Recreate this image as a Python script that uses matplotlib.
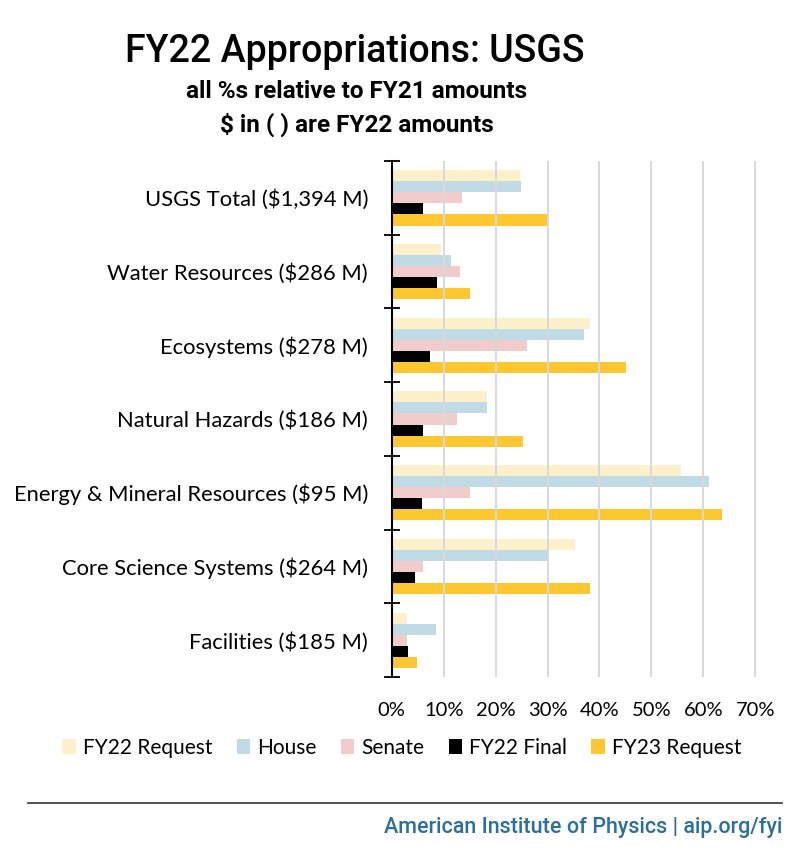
import matplotlib
matplotlib.use("Agg")
import matplotlib.pyplot as plt
from matplotlib import font_manager
from matplotlib.patches import Patch
import numpy as np

categories = [
    "USGS Total ($1,394 M)",
    "Water Resources ($286 M)",
    "Ecosystems ($278 M)",
    "Natural Hazards ($186 M)",
    "Energy & Mineral Resources ($95 M)",
    "Core Science Systems ($264 M)",
    "Facilities ($185 M)",
]
series_names = ["FY22 Request", "House", "Senate", "FY22 Final", "FY23 Request"]
fy22_request = [24.7, 9.5, 38.2, 18.4, 55.6, 35.3, 3.0]
house = [24.9, 11.4, 37.1, 18.4, 61.0, 30.0, 8.5]
senate = [13.6, 13.2, 26.1, 12.6, 15.1, 6.0, 3.0]
fy22_final = [6.0, 8.7, 7.4, 6.0, 5.8, 4.5, 3.1]
fy23_request = [30.1, 15.1, 45.2, 25.3, 63.5, 38.2, 4.9]
colors = ["#FFF0CC", "#C0DBE5", "#F2CBCB", "#000000", "#FDC72F"]
x_ticks = [0, 10, 20, 30, 40, 50, 60, 70]


def pick_font(names):
    for n in names:
        try:
            font_manager.findfont(n, fallback_to_default=False)
            return n
        except Exception:
            pass
    return "DejaVu Sans"


body_font = pick_font(["Lato", "Open Sans", "DejaVu Sans"])
narrow_font = pick_font(["Liberation Sans Narrow", "DejaVu Sans Condensed", "Roboto", "DejaVu Sans"])

plt.rcParams["font.family"] = [body_font, "DejaVu Sans"]

fig = plt.figure(figsize=(8, 8.5), dpi=100)
ax = fig.add_axes([391.7 / 800, 1 - 677 / 850, 0.487, (677 - 161) / 850])

data = [fy22_request, house, senate, fy22_final, fy23_request]
y = np.arange(len(categories))
h = 0.15
for k, (vals, col) in enumerate(zip(data, colors)):
    ax.barh(y + (k - 2) * h, vals, height=h, color=col, zorder=1, label=series_names[k])

ax.set_ylim(len(categories) - 0.5, -0.5)
ax.set_xlim(0, 75)
ax.set_yticks(np.arange(len(categories) + 1) - 0.5)
ax.set_yticklabels([])
ax.set_yticks(y, minor=True)
ax.set_yticklabels(categories, minor=True, fontsize=15.8)
ax.tick_params(axis="y", which="major", direction="inout", length=12, width=1.3, color="black")
ax.tick_params(axis="y", which="minor", length=0, pad=17)

ax.set_xticks(x_ticks)
ax.set_xticklabels([f"{v}%" for v in x_ticks], fontsize=14.5)
ax.tick_params(axis="x", length=0, pad=18)
for v in x_ticks[1:]:
    ax.axvline(v, color="#D9D9D9", lw=1.4, zorder=3)

for s in ["top", "right", "bottom"]:
    ax.spines[s].set_visible(False)
ax.spines["left"].set_linewidth(1.5)
ax.spines["left"].set_zorder(4)

fig.text(355 / 800, 1 - 62 / 850, "FY22 Appropriations: USGS", ha="center", va="baseline",
         fontsize=27, fontweight="medium", family=[narrow_font, "DejaVu Sans"])
fig.text(357 / 800, 1 - 98 / 850, "all %s relative to FY21 amounts", ha="center", va="baseline",
         fontsize=17.5, fontweight="bold", family=[narrow_font, "DejaVu Sans"])
fig.text(357 / 800, 1 - 132 / 850, "$ in ( ) are FY22 amounts", ha="center", va="baseline",
         fontsize=17.5, fontweight="bold", family=[narrow_font, "DejaVu Sans"])

handles = [Patch(facecolor=c, edgecolor="none") for c in colors]
fig.legend(handles, series_names, loc="center", bbox_to_anchor=(402 / 800, 1 - 748 / 850),
           ncol=5, frameon=False, fontsize=15, handlelength=0.65, handleheight=0.75,
           handletextpad=0.35, columnspacing=1.15)

fig.add_artist(plt.Line2D([28 / 800, 782 / 800], [1 - 803 / 850, 1 - 803 / 850],
                          color="#333333", lw=1.2, transform=fig.transFigure))
fig.text(782 / 800, 1 - 828 / 850, "American Institute of Physics | aip.org/fyi", ha="right",
         va="center", fontsize=15.5, color="#2B6FA0", fontweight="medium",
         family=[narrow_font, "DejaVu Sans"])

fig.savefig("out.png", dpi=100)
